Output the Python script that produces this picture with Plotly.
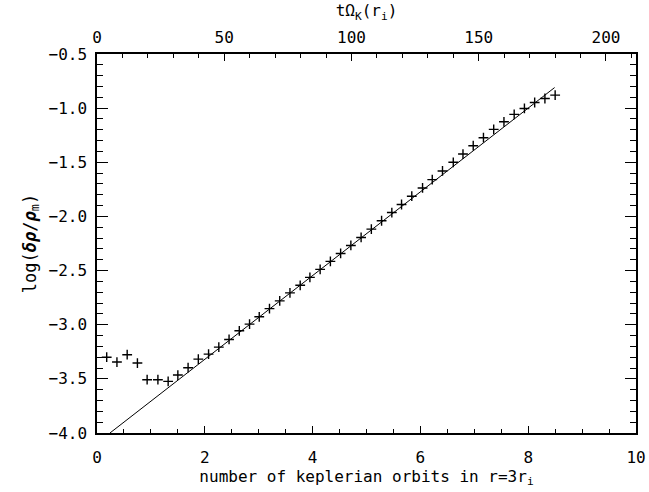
import plotly.graph_objects as go

# data
orbits = [0.18, 0.37, 0.56, 0.75, 0.93, 1.13, 1.32, 1.50, 1.69, 1.88,
          2.07, 2.26, 2.45, 2.64, 2.83, 3.01, 3.20, 3.39, 3.58, 3.77,
          3.95, 4.14, 4.33, 4.52, 4.71, 4.90, 5.09, 5.28, 5.47, 5.65,
          5.84, 6.04, 6.22, 6.41, 6.61, 6.79, 6.98, 7.17, 7.36, 7.55,
          7.74, 7.93, 8.12, 8.31, 8.50]
log_drho = [-3.30, -3.345, -3.277, -3.354, -3.508, -3.508, -3.523, -3.465, -3.397, -3.318,
            -3.272, -3.207, -3.136, -3.056, -2.995, -2.927, -2.851, -2.780, -2.706, -2.636,
            -2.563, -2.489, -2.415, -2.342, -2.268, -2.194, -2.117, -2.040, -1.964, -1.890,
            -1.813, -1.737, -1.660, -1.580, -1.500, -1.424, -1.347, -1.273, -1.196, -1.126,
            -1.058, -1.003, -0.948, -0.911, -0.880]
fit_x = [0.24, 8.49]
fit_y = [-4.0, -0.81]

x_range = [0, 10]
top_range = [0, 211.8]
y_range = [-4.0, -0.5]
x_ticks = [0, 2, 4, 6, 8, 10]
top_ticks = [0, 50, 100, 150, 200]
y_ticks = [-4.0, -3.5, -3.0, -2.5, -2.0, -1.5, -1.0, -0.5]

FONT = "DejaVu Sans Mono"
fig = go.Figure()
fig.add_trace(go.Scatter(x=fit_x, y=fit_y, mode="lines",
                         line=dict(color="black", width=1), showlegend=False))
fig.add_trace(go.Scatter(x=orbits, y=log_drho, mode="markers",
                         marker=dict(symbol="cross-thin", size=7,
                                     line=dict(color="black", width=1.4)),
                         showlegend=False))
fig.add_trace(go.Scatter(x=top_range, y=y_range, xaxis="x2", mode="markers",
                         marker=dict(opacity=0), hoverinfo="skip", showlegend=False))

fig.update_layout(
    width=649, height=492,
    margin=dict(l=97, r=13, t=54, b=59),
    plot_bgcolor="white", paper_bgcolor="white",
    font=dict(family=FONT, size=16, color="black"),
    xaxis=dict(range=x_range, tickvals=x_ticks, ticktext=[str(v) for v in x_ticks],
               ticks="inside", ticklen=7, tickwidth=1, tickcolor="black",
               showline=True, linecolor="black", linewidth=1.5, mirror=False,
               showgrid=False, zeroline=False, automargin=False,
               ticklabeloverflow="allow",
               minor=dict(dtick=0.5, ticks="inside", ticklen=4, tickcolor="black", showgrid=False),
               ticklabelstandoff=9,
               title=dict(text="number of keplerian orbits in r=3r<sub>i</sub>",
                          font=dict(size=16), standoff=4)),
    xaxis2=dict(range=top_range, overlaying="x", side="top", anchor="y",
                tickvals=top_ticks, ticktext=[str(v) for v in top_ticks],
                ticks="inside", ticklen=7, tickwidth=1, tickcolor="black",
                showline=True, linecolor="black", linewidth=1.5,
                showgrid=False, zeroline=False, automargin=False,
                ticklabeloverflow="allow",
                minor=dict(dtick=10, ticks="inside", ticklen=4, tickcolor="black", showgrid=False),
                ticklabelstandoff=3,
                title=dict(text="tΩ<sub>K</sub>(r<sub>i</sub>)", font=dict(size=16), standoff=7)),
    yaxis=dict(range=y_range, tickvals=y_ticks, ticktext=["−%.1f" % abs(v) for v in y_ticks],
               ticks="inside", ticklen=11, tickwidth=1, tickcolor="black",
               showline=True, linecolor="black", linewidth=1.5, mirror="ticks",
               showgrid=False, zeroline=False, automargin=False,
               minor=dict(dtick=0.1, ticks="inside", ticklen=6, tickcolor="black", showgrid=False),
               ticklabelstandoff=5,
               title=dict(text="log(<b><i>δρ</i></b>/<b><i>ρ</i></b><sub>m</sub>)",
                          font=dict(size=17), standoff=8)),
)

fig.write_html("out.html", config={"displayModeBar": False},
               post_script="document.body.style.margin='0';document.body.style.overflow='hidden';")
